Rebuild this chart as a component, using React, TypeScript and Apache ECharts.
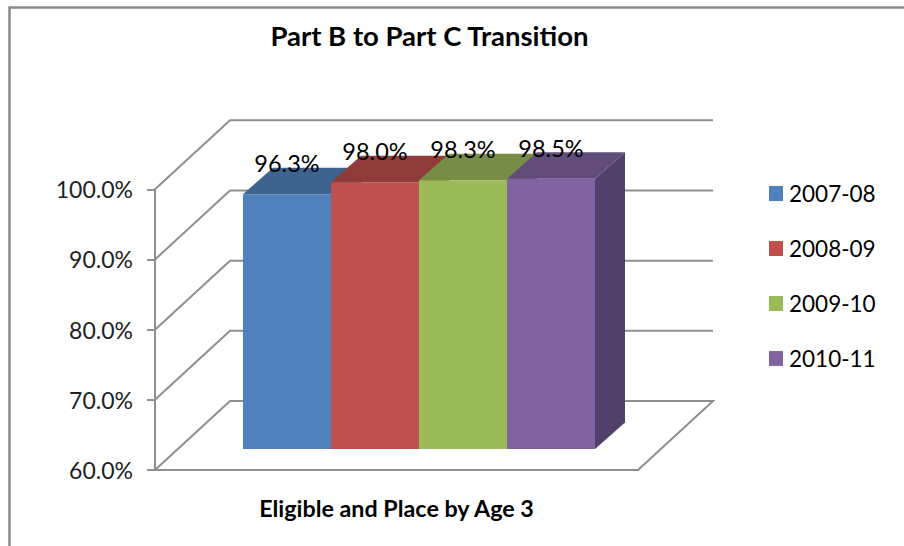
import React, { useEffect, useRef } from "react";
import * as echarts from "echarts";

const titleText = "Part B to Part C Transition";
const categories = ["Eligible and Place by Age 3"];
const yTicks = [60, 70, 80, 90, 100];
const seasons = ["2007-08", "2008-09", "2009-10", "2010-11"];
const values = [96.3, 98.0, 98.3, 98.5];
const frontColors = ["#4F81BD", "#C0504D", "#9BBB59", "#8064A2"];
const topColors = ["#3E638F", "#8F3B39", "#758D44", "#624C7C"];
const sideColors = ["#345378", "#7A3230", "#627538", "#523F6A"];

const FONT = "Lato";
const AXIS_GREY = "#8F8F8F";
const WALL_DX = 75;
const WALL_DY = 69;
const FLOOR_DX = 22.5;
const FLOOR_DY = 21;
const BAR_DX = 30;
const BAR_DY = 26.5;
const BAR_FRACTION = 0.1822;

export default function App() {
  const ref = useRef<HTMLDivElement>(null);
  useEffect(() => {
    const chart = echarts.init(ref.current!, undefined, { renderer: "svg" });

    const wallSeries = {
      type: "custom",
      name: "wall",
      silent: true,
      z: 1,
      clip: false,
      data: yTicks.map((v) => [0, v]),
      renderItem: (params: any, api: any) => {
        const sys = params.coordSys;
        const y = api.coord([0, api.value(1)])[1];
        const points = [
          [sys.x, y],
          [sys.x + WALL_DX, y - WALL_DY],
          [sys.x + sys.width + WALL_DX, y - WALL_DY],
        ];
        if (api.value(1) === yTicks[0]) points.push([sys.x + sys.width, y]);
        return {
          type: "polyline",
          shape: { points },
          style: { stroke: AXIS_GREY, lineWidth: 2, fill: "none" },
        };
      },
    };

    const barSeries = seasons.map((name, i) => ({
      type: "custom",
      name,
      z: 2,
      clip: false,
      itemStyle: { color: frontColors[i] },
      data: [[0, values[i]]],
      renderItem: (params: any, api: any) => {
        const base = api.coord([0, yTicks[0]]);
        const top = api.coord([0, api.value(1)]);
        const band = api.size([1, 0])[0];
        const w = band * BAR_FRACTION;
        const x0 = base[0] + FLOOR_DX + (i - seasons.length / 2) * w;
        const x1 = x0 + w;
        const yb = base[1] - FLOOR_DY;
        const yt = top[1] - FLOOR_DY;
        return {
          type: "group",
          children: [
            {
              type: "polygon",
              shape: { points: [[x1, yt], [x1 + BAR_DX, yt - BAR_DY], [x1 + BAR_DX, yb - BAR_DY], [x1, yb]] },
              style: { fill: sideColors[i] },
            },
            {
              type: "polygon",
              shape: { points: [[x0, yt], [x0 + BAR_DX, yt - BAR_DY], [x1 + BAR_DX, yt - BAR_DY], [x1, yt]] },
              style: { fill: topColors[i] },
            },
            {
              type: "rect",
              shape: { x: x0, y: yt, width: w, height: yb - yt },
              style: { fill: frontColors[i] },
            },
            {
              type: "text",
              z2: 100,
              x: (x0 + x1) / 2,
              y: yt - 31,
              style: {
                text: api.value(1).toFixed(1) + "%",
                fill: "#000000",
                font: `23.5px ${FONT}`,
                align: "center",
                verticalAlign: "middle",
              },
            },
          ],
        };
      },
    }));

    chart.setOption({
      animation: false,
      backgroundColor: "#FFFFFF",
      title: {
        text: titleText,
        left: 424.5,
        top: 16,
        textAlign: "center",
        textStyle: { fontFamily: FONT, fontSize: 27.5, fontWeight: "bold", color: "#000000" },
      },
      legend: {
        data: seasons,
        orient: "vertical",
        left: 769,
        top: 182,
        padding: 0,
        icon: "rect",
        itemWidth: 14,
        itemHeight: 15,
        itemGap: 32,
        selectedMode: false,
        textStyle: { fontFamily: FONT, fontSize: 22.5, color: "#000000", padding: [0, 0, 0, 1] },
      },
      grid: { left: 155, top: 189.3, width: 483, height: 280.7, containLabel: false },
      xAxis: {
        type: "category",
        data: categories,
        axisLine: { lineStyle: { color: AXIS_GREY, width: 2 } },
        axisTick: { length: 10, lineStyle: { color: AXIS_GREY, width: 2 } },
        axisLabel: { margin: 26, fontFamily: FONT, fontSize: 23.3, fontWeight: "bold", color: "#000000" },
      },
      yAxis: {
        type: "value",
        min: 60,
        max: 100,
        interval: 10,
        splitLine: { show: false },
        axisLine: { show: true, lineStyle: { color: AXIS_GREY, width: 2 } },
        axisTick: { show: true, length: 8, lineStyle: { color: AXIS_GREY, width: 2 } },
        axisLabel: {
          margin: 22,
          padding: [4, 0, 0, 0],
          fontFamily: FONT,
          fontSize: 23,
          color: "#222222",
          formatter: (v: number) => v.toFixed(1) + "%",
        },
      },
      graphic: [
        {
          type: "polyline",
          silent: true,
          shape: { points: [[9.5, 546], [9.5, 7.5], [904, 7.5]] },
          style: { stroke: "#8A8A8A", lineWidth: 2.5, fill: "none" },
        },
      ],
      series: [wallSeries, ...barSeries],
    });
    return () => chart.dispose();
  }, []);
  return <div ref={ref} style={{ position: "fixed", left: 0, top: 0, width: 904, height: 546 }} />;
}
